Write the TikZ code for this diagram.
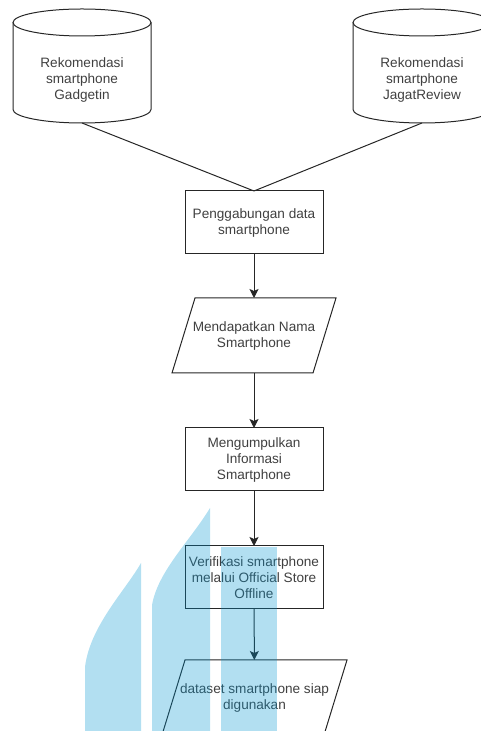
\documentclass[tikz,border=0pt]{standalone}
\usepackage{fontspec}
\setmainfont{Liberation Sans}
\usetikzlibrary{arrows.meta}

\definecolor{logoblue}{RGB}{0,150,210}

\begin{document}
\begin{tikzpicture}[x=1pt, y=1pt,
  every node/.style={font=\fontsize{13.6}{16}\selectfont, text=black!75, align=center, inner sep=0pt, outer sep=0pt},
  dbtext/.style={minimum width=138pt, minimum height=87pt},
  process/.style={draw=black!85, line width=1pt, minimum width=138pt, minimum height=63pt},
  io/.style={minimum width=164pt, minimum height=75pt},
  line/.style={draw=black!85, line width=1pt},
  flow/.style={line, -{Stealth[length=9pt, width=9pt, inset=2pt]}}]

\clip (0,0) rectangle (481,731);

\node[dbtext] (gadgetin) at (82,651.5) {Rekomendasi\\smartphone\\Gadgetin};
\node[dbtext] (jagat) at (422,651.5) {Rekomendasi\\smartphone\\JagatReview};
\node[process] (merge) at (254,508.5) {Penggabungan data\\smartphone};
\node[io] (names) at (254,395.5) {Mendapatkan Nama\\Smartphone};
\node[process] (collect) at (254,271.5) {Mengumpulkan\\Informasi\\Smartphone};
\node[process] (verify) at (254,153.5) {Verifikasi smartphone\\melalui Official Store\\Offline};
\node[io, minimum width=185pt] (dataset) at (254.5,33.5) {dataset smartphone siap\\digunakan};

% cylinders
\foreach \db in {gadgetin,jagat} {
  \draw[line] ([yshift=13.5pt]\db.north west) -- ([yshift=13.5pt]\db.south west)
    arc[start angle=180, end angle=360, x radius=69pt, y radius=13.5pt]
    -- ([yshift=13.5pt]\db.north east);
  \draw[line] ([yshift=13.5pt]\db.north) ellipse[x radius=69pt, y radius=13.5pt];
}

% parallelograms
\draw[line] (names.south west) -- ([xshift=23pt]names.north west) -- (names.north east) -- ([xshift=-23pt]names.south east) -- cycle;
\draw[line] (dataset.south west) -- ([xshift=23pt]dataset.north west) -- (dataset.north east) -- ([xshift=-23pt]dataset.south east) -- cycle;

\draw[line] (gadgetin.south) -- (merge.north);
\draw[line] (jagat.south) -- (merge.north);
\draw[flow] (merge) -- (names);
\draw[flow] (names) -- (collect);
\draw[flow] (collect) -- (verify);
\draw[flow] (verify) -- (dataset);

% logo in the background
\fill[logoblue, fill opacity=0.3] (85,0) -- (85,64) .. controls (90,105) and (125,140) .. (141,168) -- (141,0) -- cycle;
\fill[logoblue, fill opacity=0.3] (152,0) -- (152,126) .. controls (158,160) and (190,190) .. (210,223) -- (210,0) -- cycle;
\fill[logoblue, fill opacity=0.3] (221,0) rectangle (277,184);
\end{tikzpicture}
\end{document}
